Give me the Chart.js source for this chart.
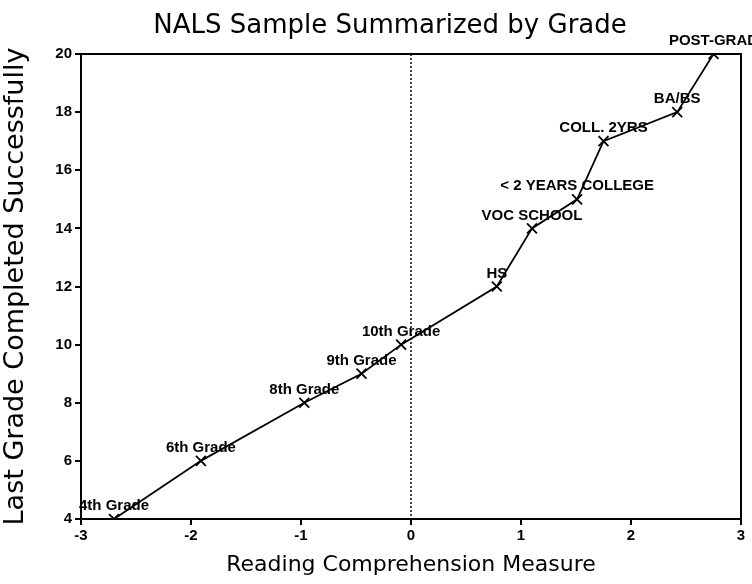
<!DOCTYPE html>
<html>
<head>
<meta charset="utf-8">
<script src="https://cdn.jsdelivr.net/npm/chart.js@4/dist/chart.umd.min.js"></script>
<style>
  html, body { margin: 0; padding: 0; background: #fff; }
</style>
</head>
<body>
<canvas id="nals-canvas" width="752" height="584"></canvas>
<script>
// reading comprehension measure vs last grade completed
let gradeLabels = ['4th Grade', '6th Grade', '8th Grade', '9th Grade', '10th Grade', 'HS',
                   'VOC SCHOOL', '< 2 YEARS COLLEGE', 'COLL. 2YRS', 'BA/BS', 'POST-GRAD'];
let readingScores = [-2.70, -1.91, -0.97, -0.45, -0.09, 0.78, 1.10, 1.51, 1.75, 2.42, 2.75];
let lastGrades = [4, 6, 8, 9, 10, 12, 14, 15, 17, 18, 20];
let xTicks = [-3, -2, -1, 0, 1, 2, 3];
let yTicks = [4, 6, 8, 10, 12, 14, 16, 18, 20];

let titleText = 'NALS Sample Summarized by Grade';

// texts, frame, zero line
let decorPlugin = {
    id: 'decor',
    afterDraw: function(chart) {
        let ctx = chart.ctx;
        let area = chart.chartArea;
        let xs = chart.scales.x;
        ctx.save();
        // frame
        ctx.strokeStyle = '#000';
        ctx.lineWidth = 2;
        ctx.strokeRect(area.left, area.top, area.right - area.left, area.bottom - area.top);
        // dotted line at zero
        let x0 = xs.getPixelForValue(0);
        ctx.lineWidth = 1.5;
        ctx.setLineDash([2, 2]);
        ctx.beginPath();
        ctx.moveTo(x0, area.top);
        ctx.lineTo(x0, area.bottom);
        ctx.stroke();
        ctx.setLineDash([]);
        // point labels
        ctx.fillStyle = '#000';
        ctx.font = 'bold 15px "Liberation Sans Narrow", "Liberation Sans", sans-serif';
        ctx.textAlign = 'center';
        ctx.textBaseline = 'middle';
        let meta = chart.getDatasetMeta(0);
        meta.data.forEach(function(pt, i) {
            ctx.fillText(gradeLabels[i], pt.x, pt.y - 13);
        });
        // title
        ctx.font = '26px "DejaVu Sans", sans-serif';
        ctx.textBaseline = 'alphabetic';
        ctx.fillText(titleText, 390, 33);
        ctx.restore();
    }
};

let ctx = document.getElementById('nals-canvas').getContext('2d');
let chart = new Chart(ctx, {
    type: 'scatter',
    data: {
        datasets: [{
            data: readingScores.map(function(v, i) { return {x: v, y: lastGrades[i]}; }),
            showLine: true,
            borderColor: '#000',
            borderWidth: 1.8,
            pointStyle: 'crossRot',
            pointRadius: 7,
            pointBorderWidth: 1.8,
            pointBorderColor: '#000',
            pointBackgroundColor: '#000'
        }]
    },
    options: {
        responsive: false,
        animation: false,
        layout: { padding: { top: 54, right: 11, left: 0, bottom: 0 } },
        plugins: {
            legend: { display: false },
            title: { display: false },
            tooltip: { enabled: false }
        },
        scales: {
            x: {
                type: 'linear',
                min: -3,
                max: 3,
                afterBuildTicks: function(scale) {
                    scale.ticks = xTicks.map(function(v) { return {value: v}; });
                },
                afterFit: function(scale) { scale.height = 65; },
                grid: { drawOnChartArea: false, drawTicks: true, tickLength: 6, color: '#000', lineWidth: 2 },
                border: { display: true, color: '#000', width: 2 },
                ticks: {
                    color: '#000',
                    padding: 2,
                    font: { family: '"Liberation Sans Narrow", "Liberation Sans", sans-serif', size: 15, weight: 'bold' }
                },
                title: {
                    display: true,
                    text: 'Reading Comprehension Measure',
                    color: '#000',
                    padding: { top: 0, bottom: 6 },
                    font: { family: '"DejaVu Sans", sans-serif', size: 22 }
                }
            },
            y: {
                type: 'linear',
                min: 4,
                max: 20,
                afterBuildTicks: function(scale) {
                    scale.ticks = yTicks.map(function(v) { return {value: v}; });
                },
                afterFit: function(scale) { scale.width = 81; },
                grid: { drawOnChartArea: false, drawTicks: true, tickLength: 6, color: '#000', lineWidth: 2 },
                border: { display: true, color: '#000', width: 2 },
                ticks: {
                    color: '#000',
                    padding: 3,
                    font: { family: '"Liberation Sans Narrow", "Liberation Sans", sans-serif', size: 15, weight: 'bold' }
                },
                title: {
                    display: true,
                    text: 'Last Grade Completed Successfully',
                    color: '#000',
                    padding: { top: 0, bottom: 0 },
                    font: { family: '"DejaVu Sans", sans-serif', size: 27 }
                }
            }
        }
    },
    plugins: [decorPlugin]
});
</script>
</body>
</html>
